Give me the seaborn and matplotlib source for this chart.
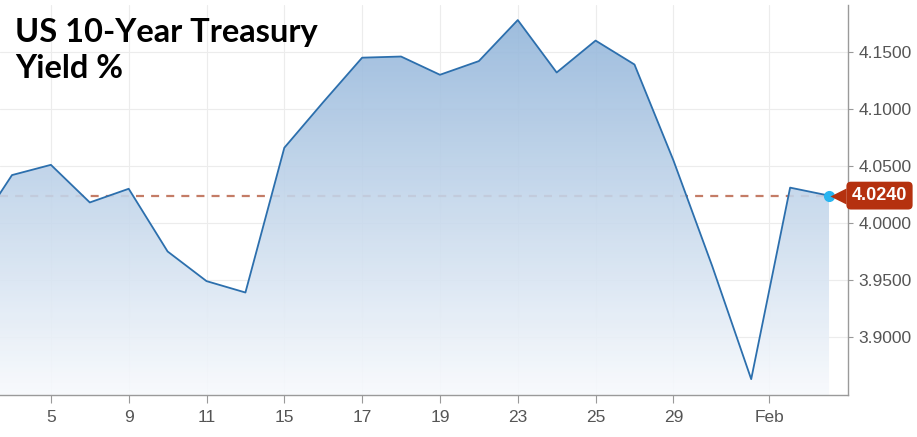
import numpy as np
import pandas as pd
import matplotlib
matplotlib.use("Agg")
import matplotlib.pyplot as plt
import seaborn as sns
from matplotlib.colors import LinearSegmentedColormap

# US 10-year yield, one value per trading day (first one is cut off by the left edge)
days = ["3", "4", "5", "8", "9", "10", "11", "12", "15", "16", "17", "18", "19",
        "22", "23", "24", "25", "26", "29", "30", "31", "Feb 1", "Feb 2"]
yields = [3.990, 4.042, 4.051, 4.018, 4.030, 3.975, 3.949, 3.939, 4.066, 4.106,
          4.145, 4.146, 4.130, 4.142, 4.178, 4.132, 4.160, 4.139, 4.055, 3.962,
          3.863, 4.031, 4.024]

tick_labels = ["5", "9", "11", "15", "17", "19", "23", "25", "29", "Feb"]
tick_pos = [1, 3, 5, 7, 9, 11, 13, 15, 17, 19.46]
ytick_vals = [3.90, 3.95, 4.00, 4.05, 4.10, 4.15]

df = pd.DataFrame({"day": days, "yield": yields})
df["idx"] = np.arange(len(df)) - 1
last = df["yield"].iloc[-1]

sns.set_style("white")
plt.rcParams["font.family"] = ["Liberation Sans", "DejaVu Sans"]

fig = plt.figure(figsize=(9.17, 4.37), dpi=100)
ax = fig.add_axes([0.0, 1 - 395 / 437, 848 / 917, 390 / 437])

xmin, xmax = -0.308, 21.488
ymin, ymax = 3.8491, 4.1912

# gradient area under the line
poly = ax.fill_between(df["idx"], df["yield"], ymin, color="none", lw=0)
grad = np.linspace(0, 1, 256).reshape(-1, 1)
cmap = LinearSegmentedColormap.from_list("g", ["#f8fafd", "#8fb3d9"])
im = ax.imshow(grad, cmap=cmap, aspect="auto", origin="lower",
               extent=[xmin, xmax, ymin, ymax], alpha=0.9, zorder=1)
im.set_clip_path(poly.get_paths()[0], transform=ax.transData)

# reference line at the latest value
ax.hlines(last, xmin, df["idx"].iloc[-1], colors="#c47c66", linestyles=(0, (3.6, 3.2)),
          lw=1.6, zorder=0.8)

sns.lineplot(data=df, x="idx", y="yield", ax=ax, color="#2c6fad", lw=1.3, zorder=3)
ax.plot(df["idx"].iloc[-1], last, "o", color="#29b5f0", ms=7, zorder=4)

ax.set_xlim(xmin, xmax)
ax.set_ylim(ymin, ymax)
ax.set_xticks(tick_pos)
ax.set_xticklabels(tick_labels)
ax.set_yticks(ytick_vals)
ax.set_yticklabels([f"{v:.4f}" for v in ytick_vals])
ax.yaxis.tick_right()
ax.set_xlabel("")
ax.set_ylabel("")
ax.grid(True, color="#ececec", lw=0.8, zorder=0)
ax.set_axisbelow(True)
ax.tick_params(axis="x", direction="out", length=6, width=0.8, color="#999999",
               labelcolor="#555555", labelsize=12.5, pad=5, bottom=True)
ax.tick_params(axis="y", direction="out", length=3.5, width=0.8, color="#999999",
               labelcolor="#555555", labelsize=12.5, pad=4, right=True, left=False)
for s in ["top", "left"]:
    ax.spines[s].set_visible(False)
for s in ["right", "bottom"]:
    ax.spines[s].set_color("#9a9a9a")
    ax.spines[s].set_linewidth(1.0)

# latest value tag on the right axis
ax.plot([0.9885], [last], marker="<", ms=11, color="#b5310f", mec="none",
        transform=ax.get_yaxis_transform(), clip_on=False, zorder=5)
ax.text(1.0045, last, f"{last:.4f}", transform=ax.get_yaxis_transform(),
        ha="left", va="center", color="white", fontsize=13, fontweight="bold",
        bbox=dict(boxstyle="round,pad=0.3,rounding_size=0.25", fc="#b5310f", ec="none"),
        zorder=6)

fig.text(15 / 917, 1 - 18 / 437, "US 10-Year Treasury\nYield %", ha="left", va="top",
         fontsize=23.5, fontweight="bold", color="black", family=["Lato", "DejaVu Sans"],
         linespacing=1.3)

fig.savefig("out.png", dpi=100)
